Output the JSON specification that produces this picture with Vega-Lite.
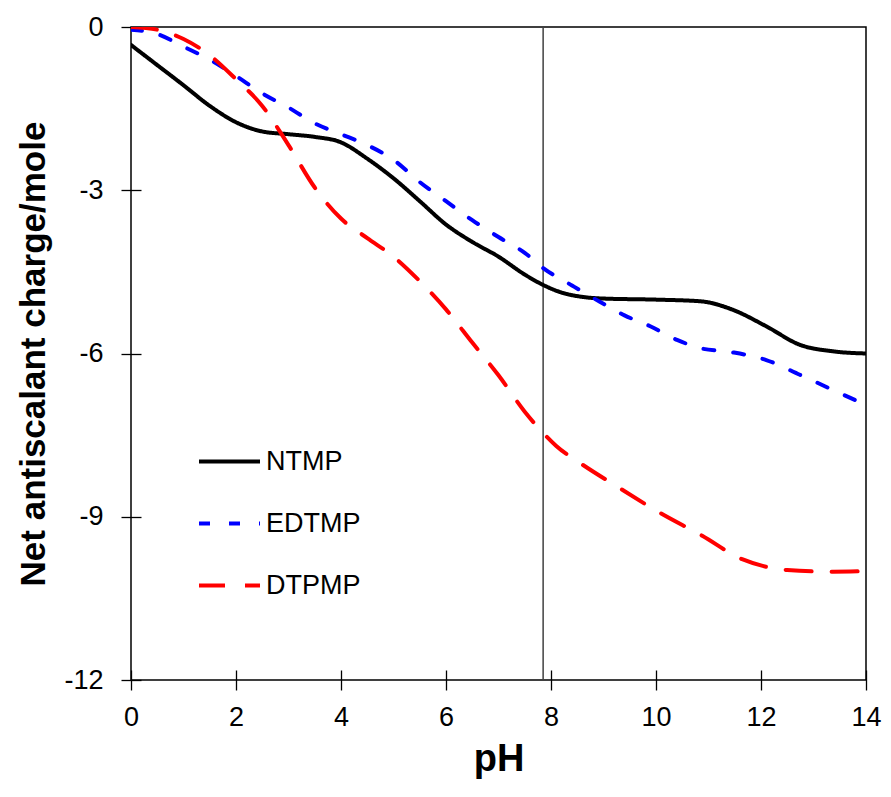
{
  "$schema": "https://vega.github.io/schema/vega-lite/v6.json",
  "width": 735,
  "height": 653,
  "autosize": "none",
  "padding": {"left": 131, "top": 27, "right": 25, "bottom": 117},
  "background": "white",
  "config": {
    "font": "Liberation Sans",
    "view": {"stroke": "black", "strokeWidth": 1.5},
    "axis": {"grid": false, "domain": false, "tickColor": "black", "tickWidth": 1.3, "labelColor": "black", "titleColor": "black", "labelFont": "Liberation Sans", "titleFont": "Liberation Sans", "labelFlush": false}
  },
  "datasets": {
    "curves": [
      {"pH": 0, "charge": -0.33, "series": "NTMP"},
      {"pH": 0.5, "charge": -0.70, "series": "NTMP"},
      {"pH": 1, "charge": -1.07, "series": "NTMP"},
      {"pH": 1.5, "charge": -1.45, "series": "NTMP"},
      {"pH": 2, "charge": -1.75, "series": "NTMP"},
      {"pH": 2.5, "charge": -1.92, "series": "NTMP"},
      {"pH": 3, "charge": -1.97, "series": "NTMP"},
      {"pH": 3.5, "charge": -2.02, "series": "NTMP"},
      {"pH": 4, "charge": -2.12, "series": "NTMP"},
      {"pH": 4.5, "charge": -2.42, "series": "NTMP"},
      {"pH": 5, "charge": -2.78, "series": "NTMP"},
      {"pH": 5.5, "charge": -3.2, "series": "NTMP"},
      {"pH": 6, "charge": -3.63, "series": "NTMP"},
      {"pH": 6.5, "charge": -3.95, "series": "NTMP"},
      {"pH": 7, "charge": -4.22, "series": "NTMP"},
      {"pH": 7.5, "charge": -4.55, "series": "NTMP"},
      {"pH": 7.85, "charge": -4.74, "series": "NTMP"},
      {"pH": 8.2, "charge": -4.88, "series": "NTMP"},
      {"pH": 8.6, "charge": -4.96, "series": "NTMP"},
      {"pH": 9, "charge": -4.99, "series": "NTMP"},
      {"pH": 10, "charge": -5.01, "series": "NTMP"},
      {"pH": 10.84, "charge": -5.04, "series": "NTMP"},
      {"pH": 11.47, "charge": -5.2, "series": "NTMP"},
      {"pH": 12.1, "charge": -5.5, "series": "NTMP"},
      {"pH": 12.74, "charge": -5.84, "series": "NTMP"},
      {"pH": 13.37, "charge": -5.96, "series": "NTMP"},
      {"pH": 14, "charge": -6.0, "series": "NTMP"},
      {"pH": 0, "charge": -0.05, "series": "EDTMP"},
      {"pH": 0.5, "charge": -0.13, "series": "EDTMP"},
      {"pH": 1, "charge": -0.36, "series": "EDTMP"},
      {"pH": 1.5, "charge": -0.6, "series": "EDTMP"},
      {"pH": 2, "charge": -0.9, "series": "EDTMP"},
      {"pH": 2.5, "charge": -1.22, "series": "EDTMP"},
      {"pH": 3, "charge": -1.48, "series": "EDTMP"},
      {"pH": 3.5, "charge": -1.77, "series": "EDTMP"},
      {"pH": 4, "charge": -1.97, "series": "EDTMP"},
      {"pH": 4.5, "charge": -2.17, "series": "EDTMP"},
      {"pH": 5, "charge": -2.44, "series": "EDTMP"},
      {"pH": 5.5, "charge": -2.85, "series": "EDTMP"},
      {"pH": 6, "charge": -3.2, "series": "EDTMP"},
      {"pH": 6.5, "charge": -3.55, "series": "EDTMP"},
      {"pH": 7, "charge": -3.86, "series": "EDTMP"},
      {"pH": 7.5, "charge": -4.15, "series": "EDTMP"},
      {"pH": 7.85, "charge": -4.43, "series": "EDTMP"},
      {"pH": 8.4, "charge": -4.75, "series": "EDTMP"},
      {"pH": 8.93, "charge": -5.05, "series": "EDTMP"},
      {"pH": 9.4, "charge": -5.3, "series": "EDTMP"},
      {"pH": 9.89, "charge": -5.5, "series": "EDTMP"},
      {"pH": 10.4, "charge": -5.75, "series": "EDTMP"},
      {"pH": 10.84, "charge": -5.9, "series": "EDTMP"},
      {"pH": 11.47, "charge": -5.98, "series": "EDTMP"},
      {"pH": 12.1, "charge": -6.12, "series": "EDTMP"},
      {"pH": 12.74, "charge": -6.39, "series": "EDTMP"},
      {"pH": 13.37, "charge": -6.67, "series": "EDTMP"},
      {"pH": 13.85, "charge": -6.88, "series": "EDTMP"},
      {"pH": 0, "charge": 0, "series": "DTPMP"},
      {"pH": 0.5, "charge": -0.05, "series": "DTPMP"},
      {"pH": 1, "charge": -0.22, "series": "DTPMP"},
      {"pH": 1.5, "charge": -0.52, "series": "DTPMP"},
      {"pH": 2, "charge": -0.96, "series": "DTPMP"},
      {"pH": 2.5, "charge": -1.45, "series": "DTPMP"},
      {"pH": 3, "charge": -2.17, "series": "DTPMP"},
      {"pH": 3.5, "charge": -2.95, "series": "DTPMP"},
      {"pH": 4, "charge": -3.52, "series": "DTPMP"},
      {"pH": 4.5, "charge": -3.88, "series": "DTPMP"},
      {"pH": 5, "charge": -4.22, "series": "DTPMP"},
      {"pH": 5.5, "charge": -4.67, "series": "DTPMP"},
      {"pH": 6, "charge": -5.19, "series": "DTPMP"},
      {"pH": 6.5, "charge": -5.8, "series": "DTPMP"},
      {"pH": 7, "charge": -6.4, "series": "DTPMP"},
      {"pH": 7.5, "charge": -7.07, "series": "DTPMP"},
      {"pH": 7.85, "charge": -7.46, "series": "DTPMP"},
      {"pH": 8.1, "charge": -7.7, "series": "DTPMP"},
      {"pH": 8.55, "charge": -8.01, "series": "DTPMP"},
      {"pH": 9.3, "charge": -8.47, "series": "DTPMP"},
      {"pH": 10.08, "charge": -8.93, "series": "DTPMP"},
      {"pH": 10.88, "charge": -9.35, "series": "DTPMP"},
      {"pH": 11.64, "charge": -9.78, "series": "DTPMP"},
      {"pH": 12.1, "charge": -9.92, "series": "DTPMP"},
      {"pH": 12.5, "charge": -9.98, "series": "DTPMP"},
      {"pH": 13.37, "charge": -10.01, "series": "DTPMP"},
      {"pH": 14, "charge": -10.0, "series": "DTPMP"}
    ],
    "marker": [{"pH": 7.85}]
  },
  "layer": [
    {
      "data": {"name": "marker"},
      "mark": {"type": "rule", "stroke": "#404040", "strokeWidth": 1.5},
      "encoding": {"x": {"field": "pH", "type": "quantitative"}}
    },
    {
      "data": {"name": "curves"},
      "mark": {"type": "line", "strokeWidth": 4, "strokeCap": "round", "interpolate": "monotone", "clip": true},
      "encoding": {
        "x": {
          "field": "pH", "type": "quantitative",
          "scale": {"domain": [0, 14], "nice": false, "zero": false},
          "axis": {"values": [0, 2, 4, 6, 8, 10, 12, 14], "offset": -10, "tickSize": 20, "labelFontSize": 27, "labelPadding": 14, "title": "pH", "titleFontSize": 38, "titleFontWeight": "bold", "titlePadding": 10}
        },
        "y": {
          "field": "charge", "type": "quantitative",
          "scale": {"domain": [-12, 0], "nice": false, "zero": false},
          "axis": {"values": [-12, -9, -6, -3, 0], "labelExpr": "'' + datum.value", "offset": -10, "tickSize": 20, "labelFontSize": 27, "labelPadding": 18, "title": "Net antiscalant charge/mole", "titleFontSize": 35, "titleFontWeight": "bold", "titlePadding": 12}
        },
        "color": {
          "field": "series", "type": "nominal",
          "scale": {"domain": ["NTMP", "EDTMP", "DTPMP"], "range": ["#000000", "#0000FF", "#FF0000"]},
          "legend": {"title": null, "orient": "none", "legendX": 66, "legendY": 402, "symbolType": "stroke", "symbolSize": 3721, "symbolStrokeWidth": 4, "labelFontSize": 27, "labelColor": "black", "labelOffset": 4, "rowPadding": 16, "padding": 0}
        },
        "strokeDash": {
          "field": "series", "type": "nominal",
          "scale": {"domain": ["NTMP", "EDTMP", "DTPMP"], "range": [[1, 0], [11, 19], [26, 20]]},
          "legend": {"title": null, "orient": "none", "legendX": 66, "legendY": 402, "symbolType": "stroke", "symbolSize": 3721, "symbolStrokeWidth": 4, "labelFontSize": 27, "labelColor": "black", "labelOffset": 4, "rowPadding": 16, "padding": 0}
        }
      }
    }
  ]
}
